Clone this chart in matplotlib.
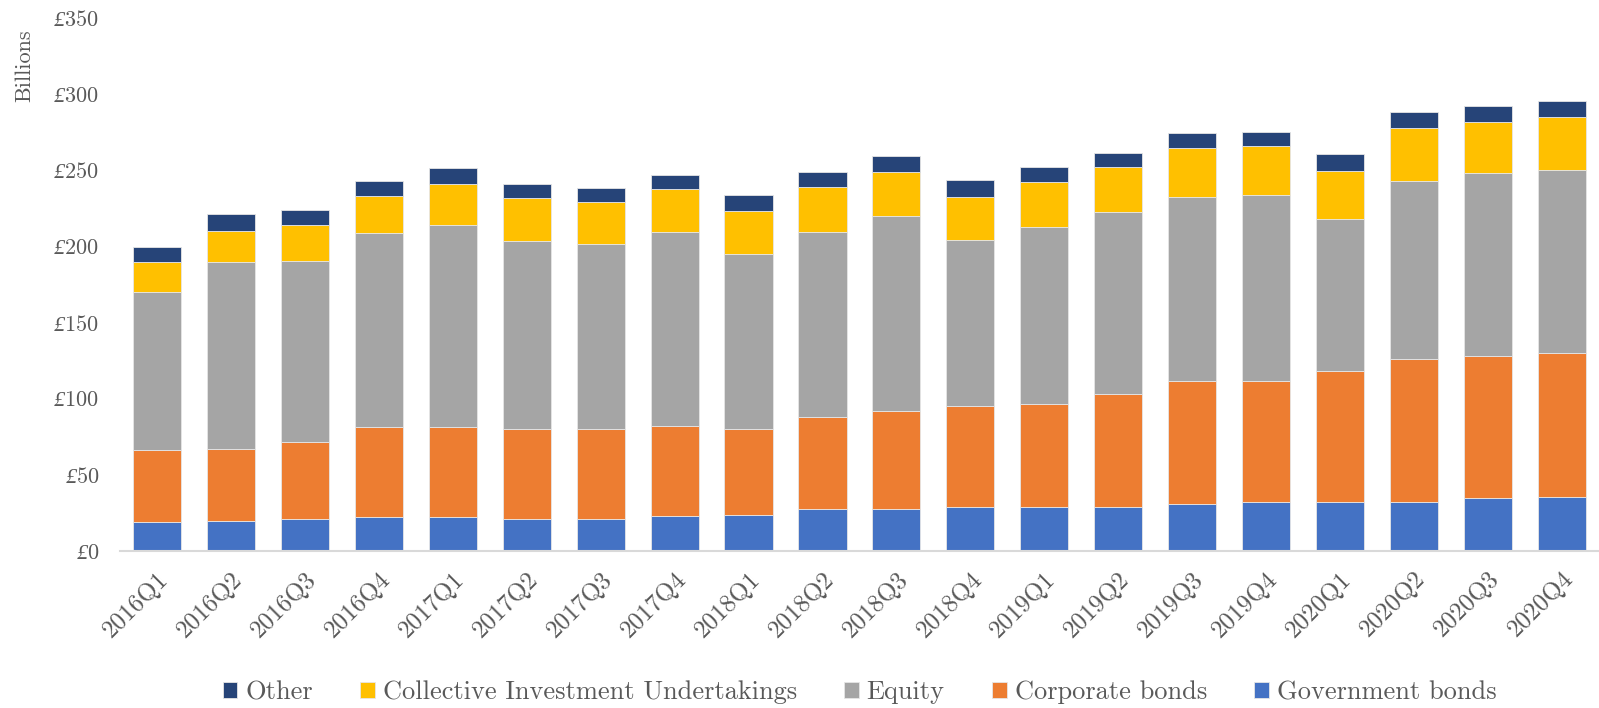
import numpy as np
import matplotlib
matplotlib.use("Agg")
import matplotlib.pyplot as plt
from matplotlib.ticker import FuncFormatter

plt.rcParams["font.family"] = ["cmr10", "DejaVu Serif"]
plt.rcParams["axes.unicode_minus"] = False
# cmr10 puts a Theta where the pound sign should be, so take it from another serif
plt.rcParams["mathtext.fontset"] = "custom"
plt.rcParams["mathtext.rm"] = "Liberation Serif:italic"

quarters = ["2016Q1", "2016Q2", "2016Q3", "2016Q4",
            "2017Q1", "2017Q2", "2017Q3", "2017Q4",
            "2018Q1", "2018Q2", "2018Q3", "2018Q4",
            "2019Q1", "2019Q2", "2019Q3", "2019Q4",
            "2020Q1", "2020Q2", "2020Q3", "2020Q4"]

# cumulative tops (GBP billions)
top_gov = [19.2, 19.5, 20.9, 22.0, 22.0, 21.3, 21.3, 22.7, 23.5, 27.4,
           27.4, 28.8, 28.6, 28.6, 30.7, 32.4, 32.4, 32.4, 34.5, 35.4]
top_corp = [66.6, 67.1, 71.8, 81.1, 81.6, 80.4, 80.0, 82.3, 80.0, 87.9,
            92.2, 95.5, 96.4, 103.4, 111.9, 111.4, 118.0, 125.9, 128.0, 129.7]
top_equity = [169.8, 189.5, 190.7, 208.7, 213.9, 203.6, 201.9, 209.7, 195.1, 209.2,
              219.7, 204.5, 212.9, 222.3, 232.4, 233.6, 218.3, 243.0, 247.9, 250.5]
top_ciu = [190.0, 210.1, 213.9, 233.1, 241.1, 231.5, 228.9, 237.6, 223.5, 238.7,
           248.6, 232.2, 242.3, 252.3, 264.3, 265.7, 249.8, 277.7, 281.7, 284.9]
top_other = [199.3, 221.2, 223.7, 242.7, 251.2, 241.3, 238.3, 246.7, 233.6, 248.6,
             259.1, 243.4, 252.1, 261.3, 274.4, 275.3, 260.6, 288.2, 292.0, 295.3]

gov = np.array(top_gov)
corp = np.array(top_corp) - np.array(top_gov)
equity = np.array(top_equity) - np.array(top_corp)
ciu = np.array(top_ciu) - np.array(top_equity)
other = np.array(top_other) - np.array(top_ciu)

series = [("Government bonds", gov, "#4472C4"),
          ("Corporate bonds", corp, "#ED7D31"),
          ("Equity", equity, "#A5A5A5"),
          ("Collective Investment Undertakings", ciu, "#FFC000"),
          ("Other", other, "#264478")]

TXT = "#595959"

fig = plt.figure(figsize=(15.99, 7.08), dpi=100)
ax = fig.add_axes([0.075, 0.2218, 0.925, 0.7528])

x = np.arange(len(quarters))
bottom = np.zeros(len(quarters))
handles = []
for name, vals, col in series:
    b = ax.bar(x, vals, 0.65, bottom=bottom, color=col, label=name,
               edgecolor="#e6e6e6", linewidth=0.6)
    handles.append(b)
    bottom += vals

ax.set_xlim(-0.5, len(quarters) - 0.5)
ax.set_ylim(0, 350)
ax.set_yticks(np.arange(0, 351, 50))
ax.yaxis.set_major_formatter(FuncFormatter(lambda v, p: r"$£$%d" % v))

for s in ["top", "right", "left"]:
    ax.spines[s].set_visible(False)
ax.spines["bottom"].set_color("#D9D9D9")
ax.spines["bottom"].set_linewidth(1.5)

ax.tick_params(axis="y", length=0, pad=15, labelsize=16, labelcolor=TXT)
ax.tick_params(axis="x", length=0, pad=12, labelsize=18, labelcolor=TXT)
ax.set_xticks(x)
ax.set_xticklabels(quarters, rotation=45, ha="right", rotation_mode="anchor")

ax.set_ylabel("Billions", fontsize=16, color=TXT)
ax.yaxis.set_label_coords(-0.058, 0.91)

leg = ax.legend(handles[::-1], [s[0] for s in series][::-1], loc="center",
                bbox_to_anchor=(0.5, -0.265), ncol=5, frameon=False,
                fontsize=19, handlelength=0.55, handleheight=0.55,
                handletextpad=0.3, columnspacing=1.8)
for t in leg.get_texts():
    t.set_color(TXT)

fig.savefig("out.png", dpi=100)
